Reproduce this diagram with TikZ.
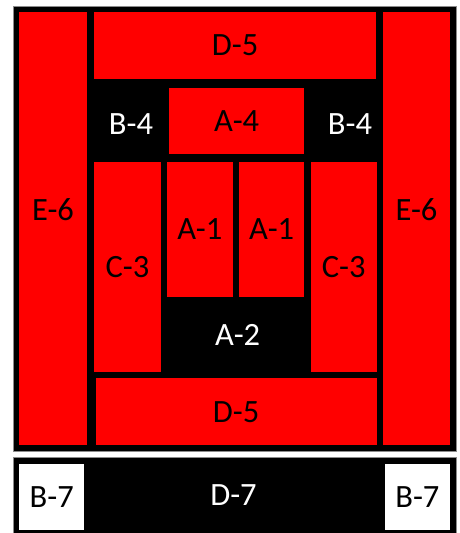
\documentclass[tikz,border=0pt]{standalone}
\usepackage{fontspec}
\setmainfont{Carlito}
\usepackage{tikz}

\begin{document}
\begin{tikzpicture}[
  x=1pt, y=-1pt,
  font=\fontsize{32.5}{38}\selectfont,
  frame/.style={draw=black!45, line width=0.8pt, fill=black, inner sep=0pt},
  cell/.style={fill=red, inner sep=0pt, text=black},
  hole/.style={text=white, inner sep=0pt},
  spare/.style={fill=white, inner sep=0pt, text=black},
  tall/.style={text height=21pt, text depth=37pt}
]
\useasboundingbox (0,0) rectangle (459,533);

% black frames
\node[frame, minimum width=443pt, minimum height=445pt] (upper) at (234.5,228.5) {};
\node[frame, minimum width=443pt, minimum height=77pt]  (lower) at (234.5,496) {};

% outer ring
\node[cell, tall, minimum width=67.4pt, minimum height=433.3pt] (e6l) at (53,228.4)    {E-6};
\node[cell, tall, minimum width=67pt,   minimum height=433.3pt] (e6r) at (416.5,228.4) {E-6};
\node[cell, minimum width=282.3pt, minimum height=67.3pt] (d5t) at (235.2,45.4)  {D-5};
\node[cell, minimum width=281pt,   minimum height=66.7pt] (d5b) at (236.2,411.7) {D-5};

% inner ring
\node[cell, minimum width=67pt, minimum height=210pt] (c3l) at (127.5,266.7) {C-3};
\node[cell, minimum width=66pt, minimum height=210pt] (c3r) at (343.7,266.7) {C-3};
\node[cell, minimum width=135.3pt, minimum height=65.7pt] (a4) at (236.7,121.2) {A-4};
\node[cell, minimum width=66.3pt, minimum height=135.6pt] (a1l) at (199.9,229.5) {A-1};
\node[cell, minimum width=65.3pt, minimum height=135.6pt] (a1r) at (271.7,229.5) {A-1};

% gaps
\node[hole] (b4l) at (131,124) {B-4};
\node[hole] (b4r) at (350,124) {B-4};
\node[hole] (a2)  at (237.7,335.3) {A-2};
\node[hole] (d7)  at (233.5,494.7) {D-7};

% bottom strip
\node[spare, minimum width=65.3pt, minimum height=65.7pt] (b7l) at (51.7,497.2)  {B-7};
\node[spare, minimum width=65.3pt, minimum height=65.7pt] (b7r) at (417.4,497.2) {B-7};
\end{tikzpicture}
\end{document}
